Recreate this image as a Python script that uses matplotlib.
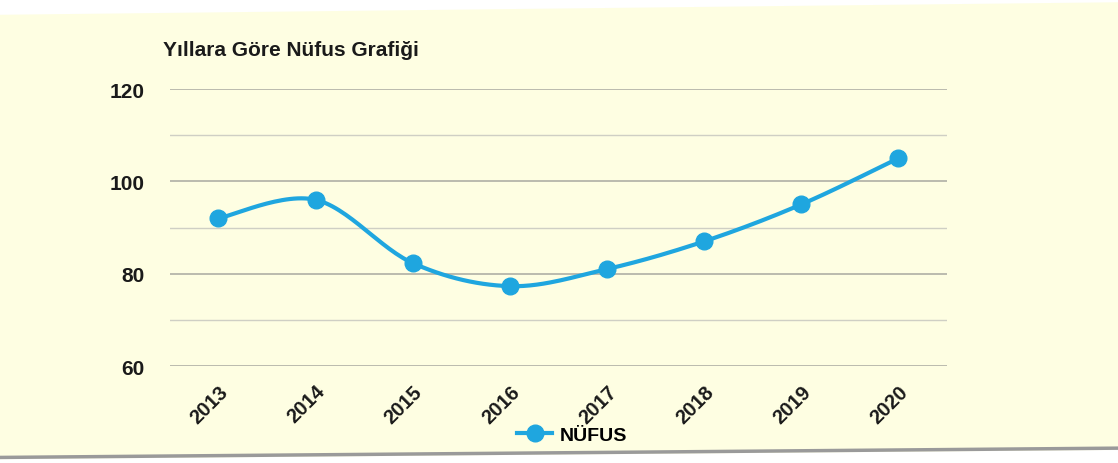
import numpy as np
import matplotlib
matplotlib.use("Agg")
import matplotlib.pyplot as plt
from matplotlib.lines import Line2D
from matplotlib.patches import Polygon

plt.rcParams['font.family'] = ['Liberation Sans', 'DejaVu Sans']

# veri
years = ["2013", "2014", "2015", "2016", "2017", "2018", "2019", "2020"]
population = [92, 96, 82.3, 77.3, 81, 87, 95, 105]
y_ticks = [60, 80, 100, 120]
title = "Yıllara Göre Nüfus Grafiği"
series_name = "NÜFUS"

LINE_COLOR = "#1fa6df"
BG_COLOR = "#fefee2"


def smooth_curve(x, y, steps=30):
    # Catmull-Rom benzeri yumusak cizgi (Excel'deki gibi)
    x = np.asarray(x, dtype=float)
    y = np.asarray(y, dtype=float)
    px = np.concatenate([[x[0]], x, [x[-1]]])
    py = np.concatenate([[y[0]], y, [y[-1]]])
    xs, ys = [], []
    t = np.linspace(0, 1, steps)
    for i in range(1, len(px) - 2):
        p0, p1, p2, p3 = (np.array([px[j], py[j]]) for j in range(i - 1, i + 3))
        c1 = p1 + (p2 - p0) / 6.0
        c2 = p2 - (p3 - p1) / 6.0
        b = ((1 - t) ** 3)[:, None] * p1 + (3 * (1 - t) ** 2 * t)[:, None] * c1 \
            + (3 * (1 - t) * t ** 2)[:, None] * c2 + (t ** 3)[:, None] * p2
        xs.append(b[:, 0])
        ys.append(b[:, 1])
    return np.concatenate(xs), np.concatenate(ys)


fig = plt.figure(figsize=(11.18, 4.64), dpi=100)
fig.patch.set_facecolor(BG_COLOR)

# taranmis sayfa kenarlari
fig.patches.append(Polygon([(0, 1), (1, 1), (1, 0.993), (0, 0.966)], closed=True,
                           transform=fig.transFigure, facecolor="white",
                           edgecolor="none", zorder=0))
fig.patches.append(Polygon([(0, 0), (1, 0), (1, 0.028), (0, 0.008)], closed=True,
                           transform=fig.transFigure, facecolor="white",
                           edgecolor="none", zorder=0))
fig.add_artist(Line2D([0, 1], [0.012, 0.032], transform=fig.transFigure,
                      color="#9a9a9a", lw=2.5))

ax = fig.add_axes([0.152, 0.209, 0.695, 0.597])
ax.set_facecolor(BG_COLOR)

x = np.arange(len(years))
sx, sy = smooth_curve(x, population)
ax.plot(sx, sy, color=LINE_COLOR, lw=3, zorder=3, solid_capstyle="round")
ax.plot(x, population, "o", color=LINE_COLOR, markersize=12, zorder=4)

ax.set_xlim(-0.5, len(years) - 0.5)
ax.set_ylim(60, 120)
ax.set_yticks(y_ticks)
ax.set_yticks(range(60, 121, 10), minor=True)
ax.grid(True, which="major", axis="y", color="#a8a8a0", lw=1.1)
ax.grid(True, which="minor", axis="y", color="#cfcfc4", lw=1.0)
ax.set_axisbelow(True)

ax.set_xticks(x)
ax.set_xticklabels(years, rotation=45, ha="right", rotation_mode="anchor",
                   fontsize=14.5, fontweight="bold", color="#1a1a1a")
ax.tick_params(axis="x", length=0, pad=11)

ax.tick_params(axis="y", which="both", length=0, pad=18)
for lab in ax.get_yticklabels():
    lab.set_fontsize(15)
    lab.set_fontweight("bold")
    lab.set_color("#1a1a1a")

for s in ax.spines.values():
    s.set_visible(False)

fig.text(0.146, 0.88, title, fontsize=15, fontweight="bold", color="#1a1a1a")

handle = Line2D([], [], color=LINE_COLOR, lw=3, marker="o", markersize=12)
fig.legend([handle], [series_name], loc="center", bbox_to_anchor=(0.512, 0.06),
           frameon=False, prop={"size": 14, "weight": "bold"},
           handlelength=1.8, handletextpad=0.4)

fig.savefig("out.png", dpi=100, facecolor=fig.get_facecolor())
